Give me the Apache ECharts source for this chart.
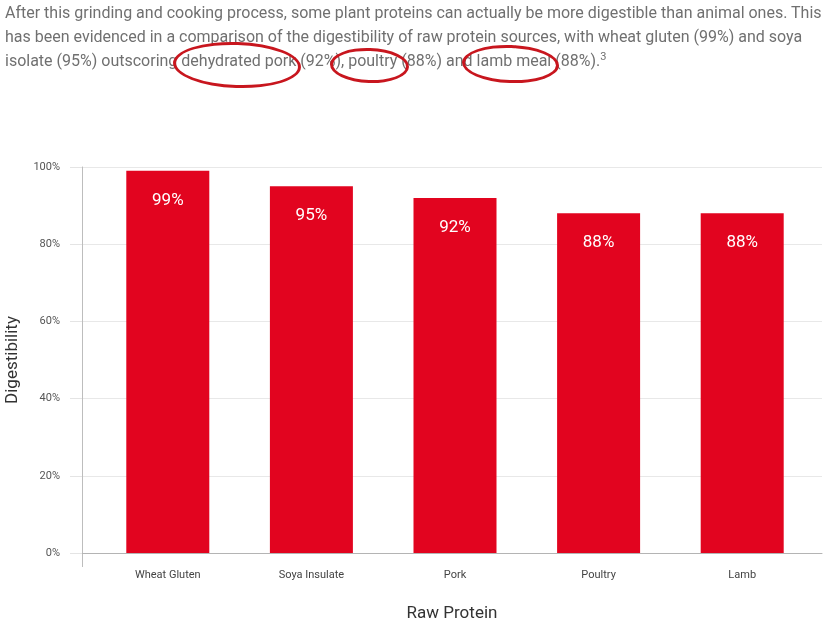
<!DOCTYPE html>
<html>
<head>
<meta charset="utf-8">
<script src="https://cdn.jsdelivr.net/npm/echarts@6/dist/echarts.min.js"></script>
<style>
	html, body { margin: 0; padding: 0; background: #fff; }
	#wrap { position: relative; width: 829px; height: 622px; overflow: hidden; }
	#chart { position: absolute; left: 0; top: 0; width: 829px; height: 622px; }
	#intro {
		position: absolute; left: 5px; top: 1px; z-index: 2;
		font-family: Roboto, sans-serif; font-size: 16px; line-height: 24px;
		color: #707070; white-space: nowrap; letter-spacing: 0;
	}
	#intro sup { font-size: 11px; vertical-align: 6px; line-height: 0; }
	.ring { position: relative; display: inline-block; }
	.ring::after {
		content: ""; position: absolute; border: 3px solid #c8161e;
		border-radius: 50%; transform: rotate(2deg);
	}
	.r1::after { left: -8px; right: -5px; top: -7px; bottom: -15px; }
	.r2::after { left: -18px; right: -12px; top: -1px; bottom: -10px; }
	.r3::after { left: -15px; right: -7px; top: -4px; bottom: -10px; }
</style>
</head>
<body>
<div id="wrap">
	<div id="chart"></div>
	<div id="intro">
		After this grinding and cooking process, some plant proteins can actually be more digestible than animal ones. This<br>
		has been evidenced in a comparison of the digestibility of raw protein sources, with wheat gluten (99%) and soya<br>
		isolate (95%) outscoring <span class="ring r1">dehydrated pork</span> (92%), <span class="ring r2">poultry</span> (88%) and <span class="ring r3">lamb meal</span> (88%).<sup>3</sup>
	</div>
</div>
<script>
var categories = ['Wheat Gluten', 'Soya Insulate', 'Pork', 'Poultry', 'Lamb'];
var digestibility = [99, 95, 92, 88, 88];
var yTicks = [0, 20, 40, 60, 80, 100];

var chart = echarts.init(document.getElementById('chart'));
chart.setOption({
	animation: false,
	textStyle: { fontFamily: 'Roboto, sans-serif' },
	grid: [
		// frame grid: axis line, ticks, split lines
		{ left: 82, right: 7, top: 167, bottom: 69, outerBoundsMode: 'none', containLabel: false },
		// bar grid
		{ left: 96, right: 15, top: 167, bottom: 69, outerBoundsMode: 'none', containLabel: false }
	],
	// y axis line runs a little past the baseline
	graphic: [{
		type: 'line',
		shape: { x1: 82.5, y1: 553, x2: 82.5, y2: 567 },
		style: { stroke: '#bdbdbd', lineWidth: 1 }
	}],
	xAxis: [{
		gridIndex: 0,
		type: 'category',
		data: categories,
		axisLine: { show: true, lineStyle: { color: '#b4b4b4', width: 1 } },
		axisTick: { show: false },
		axisLabel: { show: false },
		name: 'Raw Protein',
		nameLocation: 'middle',
		nameGap: 52,
		nameTextStyle: { fontSize: 17, color: '#333' }
	}, {
		gridIndex: 1,
		type: 'category',
		data: categories,
		axisLine: { show: false },
		axisTick: { show: false },
		axisLabel: { fontSize: 11, color: '#444', margin: 17 }
	}],
	yAxis: [{
		gridIndex: 0,
		type: 'value',
		min: yTicks[0],
		max: yTicks[yTicks.length - 1],
		interval: 20,
		axisLine: { show: true, lineStyle: { color: '#bdbdbd' } },
		axisTick: { show: true, length: 12, lineStyle: { color: '#e4e4e4' } },
		axisLabel: { formatter: '{value}%', fontSize: 11, color: '#555', margin: 22 },
		splitLine: { show: true, lineStyle: { color: '#e8e8e8' } },
		name: 'Digestibility',
		nameLocation: 'middle',
		nameGap: 61,
		nameTextStyle: { fontSize: 17, color: '#333' }
	}, {
		gridIndex: 1,
		type: 'value',
		min: 0,
		max: 100,
		show: false
	}],
	series: [{
		name: 'Digestibility',
		type: 'bar',
		xAxisIndex: 1,
		yAxisIndex: 1,
		barWidth: 83,
		data: digestibility,
		itemStyle: { color: '#e2041f' },
		label: {
			show: true,
			position: 'insideTop',
			distance: 21,
			formatter: '{c}%',
			color: '#fff',
			fontSize: 17
		}
	}]
});
</script>
</body>
</html>
